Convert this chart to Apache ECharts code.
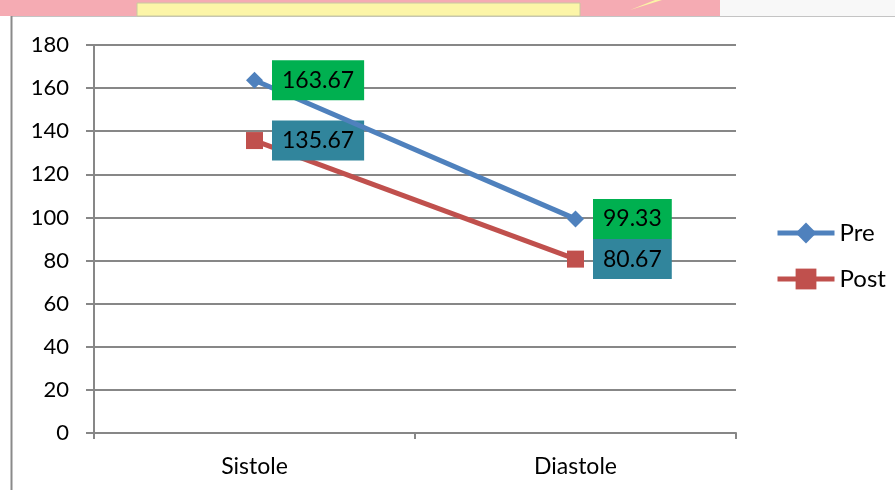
<!DOCTYPE html>
<html>
<head>
<meta charset="utf-8">
<script src="https://cdn.jsdelivr.net/npm/echarts@6/dist/echarts.min.js"></script>
<style>
  html, body { margin: 0; padding: 0; background: #ffffff; }
  #chart { width: 895px; height: 490px; }
</style>
</head>
<body>
<div id="chart"></div>
<script>
// Blood pressure before and after, per phase
const categories = ['Sistole', 'Diastole'];
const preValues = [163.67, 99.33];
const postValues = [135.67, 80.67];
const seriesNames = ['Pre', 'Post'];
const yTicks = [0, 20, 40, 60, 80, 100, 120, 140, 160, 180];

const FONT = 'Lato, "Open Sans", sans-serif';
const GRID_COLOR = '#878787';

const chart = echarts.init(document.getElementById('chart'), null, { renderer: 'canvas' });

function valueLabel(bg) {
  return {
    show: true,
    position: 'right',
    distance: 9,
    color: '#000',
    fontFamily: FONT,
    fontSize: 23,
    backgroundColor: bg,
    padding: [9, 10, 8, 10],
    formatter: p => p.value.toFixed(2)
  };
}

chart.setOption({
  animation: false,
  backgroundColor: '#ffffff',
  graphic: [
    // slide backdrop strip along the top
    { type: 'rect', shape: { x: 0, y: 0, width: 720, height: 16 }, style: { fill: '#f5abb3' }, silent: true },
    { type: 'rect', shape: { x: 720, y: 0, width: 175, height: 16 }, style: { fill: '#f8f8f8' }, silent: true },
    { type: 'rect', shape: { x: 137, y: 3, width: 443, height: 13 }, style: { fill: '#fcf5a8', stroke: '#c8c8a0', lineWidth: 1 }, silent: true },
    { type: 'polygon', shape: { points: [[630, 10], [655, 0], [662, 0]] }, style: { fill: '#fbf3a6' }, silent: true },
    // chart frame
    { type: 'rect', shape: { x: 11.5, y: 15.5, width: 900, height: 500 }, style: { fill: '#ffffff', stroke: '#8a8a8a', lineWidth: 2 }, silent: true, z: -1 }
  ],
  grid: { left: 94, right: 159, top: 45, bottom: 57 },
  legend: {
    orient: 'vertical',
    left: 775,
    top: 221,
    padding: 0,
    itemWidth: 57,
    itemHeight: 26,
    itemGap: 22,
    lineStyle: { width: 5 },
    textStyle: { fontFamily: FONT, fontSize: 24, color: '#000', padding: [0, 0, 0, 0] },
    data: seriesNames
  },
  xAxis: {
    type: 'category',
    data: categories,
    boundaryGap: true,
    axisLine: { lineStyle: { color: GRID_COLOR, width: 2 } },
    axisTick: { show: true, length: 6, lineStyle: { color: GRID_COLOR, width: 2 } },
    axisLabel: { color: '#000', fontFamily: FONT, fontSize: 23, margin: 22 },
    splitLine: { show: false }
  },
  yAxis: {
    type: 'value',
    min: yTicks[0],
    max: yTicks[yTicks.length - 1],
    interval: yTicks[1] - yTicks[0],
    axisLine: { show: true, lineStyle: { color: GRID_COLOR, width: 2 } },
    axisTick: { show: true, length: 8, lineStyle: { color: GRID_COLOR, width: 2 } },
    axisLabel: { color: '#000', fontFamily: FONT, fontSize: 22, margin: 25 },
    splitLine: { show: true, lineStyle: { color: GRID_COLOR, width: 2 } }
  },
  series: [
    {
      name: seriesNames[0],
      type: 'line',
      data: preValues,
      symbol: 'diamond',
      symbolSize: 17,
      itemStyle: { color: '#4f81bd' },
      lineStyle: { color: '#4f81bd', width: 5 },
      label: valueLabel('#00b050'),
      z: 3
    },
    {
      name: seriesNames[1],
      type: 'line',
      data: postValues,
      symbol: 'rect',
      symbolSize: 17,
      itemStyle: { color: '#c0504d' },
      lineStyle: { color: '#c0504d', width: 5 },
      label: valueLabel('#31859c'),
      z: 2
    }
  ]
});
</script>
</body>
</html>
